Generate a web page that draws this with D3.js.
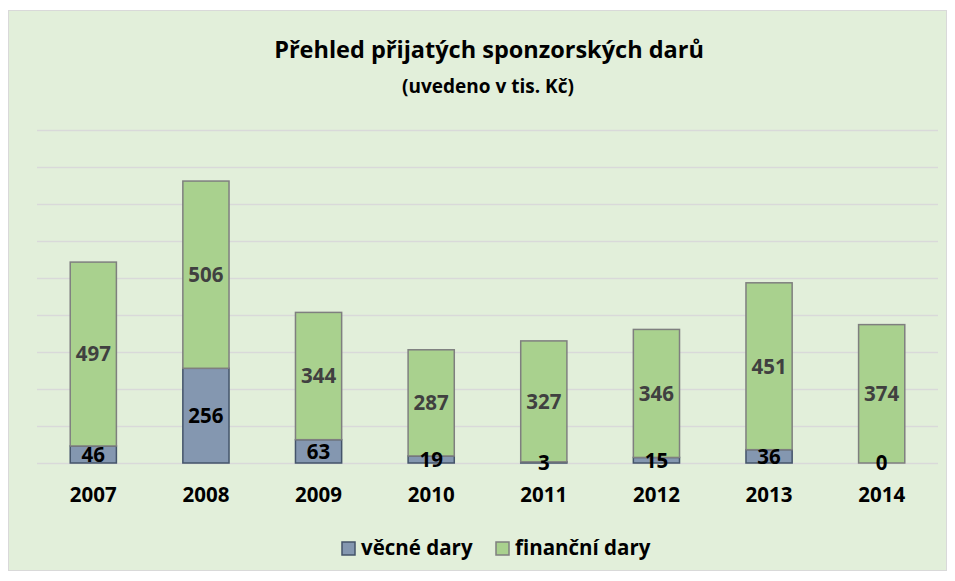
<!DOCTYPE html>
<html>
  <head>
    <meta charset="utf-8">
    <title>Přehled přijatých sponzorských darů</title>
    <script src="https://d3js.org/d3.v7.min.js"></script>
    <style type="text/css">
      body {
          margin: 0;
          background: #ffffff;
          font-family: "Open Sans", "Noto Sans", sans-serif;
      }
      .grid line {
          stroke: #d9d9d9;
          stroke-width: 1.5;
      }
      .label {
          font-weight: bold;
          font-size: 20.5px;
      }
    </style>
  </head>
  <body>
    <script>
        // Data (in thousands of CZK)
        var years = ["2007", "2008", "2009", "2010", "2011", "2012", "2013", "2014"];
        var vecne = [46, 256, 63, 19, 3, 15, 36, 0];
        var financni = [497, 506, 344, 287, 327, 346, 451, 374];
        var seriesNames = ["věcné dary", "finanční dary"];
        var gridTicks = [0, 100, 200, 300, 400, 500, 600, 700, 800, 900];

        var svgWidth = 955;
        var svgHeight = 581;
        var plotLeft = 37;
        var plotRight = 938;
        var plotTop = 130;
        var plotBottom = 463;

        var svg = d3.select("body")
                    .append("svg")
                    .attr("width", svgWidth)
                    .attr("height", svgHeight);

        // Chart area background
        svg.append("rect")
           .attr("x", 8.5)
           .attr("y", 10.5)
           .attr("width", 938)
           .attr("height", 560)
           .attr("fill", "#e2efda")
           .attr("stroke", "#d9d9d9");

        var xScale = d3.scaleBand()
                       .domain(years)
                       .range([plotLeft, plotRight])
                       .paddingInner(0.59)
                       .paddingOuter(0.295);

        var yScale = d3.scaleLinear()
                       .domain([0, 900])
                       .range([plotBottom, plotTop]);

        // Gridlines
        var grid = svg.append("g")
                      .attr("class", "grid")
                      .attr("transform", "translate(" + plotLeft + ",0)")
                      .call(d3.axisLeft(yScale)
                              .tickValues(gridTicks)
                              .tickSize(-(plotRight - plotLeft))
                              .tickFormat(""));
        grid.select(".domain").remove();

        // Stack the two series
        var rows = years.map(function(y, i) {
            return {year: y, vecne: vecne[i], financni: financni[i]};
        });
        var stack = d3.stack().keys(["vecne", "financni"]);
        var stacked = stack(rows);

        var fills = ["#8497b0", "#a9d18e"];
        var strokes = ["#44546a", "#7f7f7f"];
        var labelColors = ["#000000", "#404040"];

        stacked.forEach(function(layer, k) {
            svg.append("g")
               .selectAll("rect")
               .data(layer)
               .enter()
               .append("rect")
               .attr("x", function(d) { return xScale(d.data.year); })
               .attr("y", function(d) { return yScale(d[1]); })
               .attr("width", xScale.bandwidth())
               .attr("height", function(d) { return yScale(d[0]) - yScale(d[1]); })
               .attr("fill", fills[k])
               .attr("stroke", strokes[k])
               .attr("stroke-width", 1.5);
        });

        // Value labels in the middle of each segment
        stacked.forEach(function(layer, k) {
            svg.append("g")
               .selectAll("text")
               .data(layer)
               .enter()
               .append("text")
               .attr("class", "label")
               .attr("x", function(d) { return xScale(d.data.year) + xScale.bandwidth() / 2; })
               .attr("y", function(d) { return yScale((d[0] + d[1]) / 2); })
               .attr("dy", "0.36em")
               .attr("text-anchor", "middle")
               .attr("fill", labelColors[k])
               .text(function(d) { return d[1] - d[0]; });
        });

        // X axis labels
        svg.append("g")
           .selectAll("text")
           .data(years)
           .enter()
           .append("text")
           .attr("class", "label")
           .attr("x", function(d) { return xScale(d) + xScale.bandwidth() / 2; })
           .attr("y", 502)
           .attr("text-anchor", "middle")
           .attr("fill", "#000")
           .text(function(d) { return d; });

        // Title
        svg.append("text")
           .attr("x", 489)
           .attr("y", 58)
           .attr("text-anchor", "middle")
           .attr("font-weight", "bold")
           .attr("font-size", "23.5px")
           .text("Přehled přijatých sponzorských darů");

        svg.append("text")
           .attr("x", 488)
           .attr("y", 93)
           .attr("text-anchor", "middle")
           .attr("font-weight", "bold")
           .attr("font-size", "19px")
           .text("(uvedeno v tis. Kč)");

        // Legend
        var legend = svg.append("g").attr("transform", "translate(342,548)");
        var legendX = [0, 154];
        seriesNames.forEach(function(name, k) {
            legend.append("rect")
                  .attr("x", legendX[k])
                  .attr("y", -6)
                  .attr("width", 13)
                  .attr("height", 13)
                  .attr("fill", fills[k])
                  .attr("stroke", strokes[k])
                  .attr("stroke-width", 1.5);
            legend.append("text")
                  .attr("class", "label")
                  .attr("x", legendX[k] + 19)
                  .attr("y", 7)
                  .attr("font-size", "19.5px")
                  .attr("fill", "#000")
                  .text(name);
        });
    </script>
  </body>
</html>
